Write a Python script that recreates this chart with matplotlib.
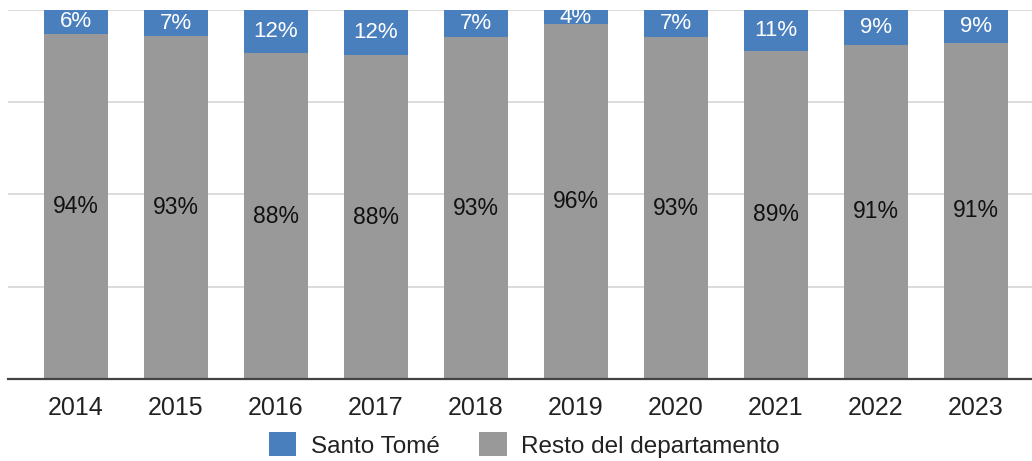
import matplotlib

matplotlib.use("Agg")
import matplotlib.pyplot as plt
from matplotlib.patches import Patch
import numpy as np

plt.rcParams["font.family"] = ["Liberation Sans", "DejaVu Sans"]

YEARS = ["2014", "2015", "2016", "2017", "2018", "2019", "2020", "2021", "2022", "2023"]
RESTO = [93.6, 92.9, 88.3, 87.8, 92.6, 96.2, 92.6, 88.9, 90.6, 91.1]
SANTO_TOME = [6.4, 7.1, 11.7, 12.2, 7.4, 3.8, 7.4, 11.1, 9.4, 8.9]

BLUE = "#4a7fbe"
GRAY = "#999999"

fig = plt.figure(figsize=(10.32, 4.61), dpi=100)
ax = fig.add_axes([8 / 1032, 82 / 461, 1024 / 1032, 369 / 461])

x = np.arange(len(YEARS))
b_resto = ax.bar(x, RESTO, width=0.64, color=GRAY, zorder=2)
b_santo = ax.bar(x, SANTO_TOME, width=0.64, bottom=RESTO, color=BLUE, zorder=2)

ax.bar_label(b_resto, labels=[f"{v:.0f}%" for v in RESTO], label_type="center",
             fontsize=16.5, color="#111111")
ax.bar_label(b_santo, labels=[f"{v:.0f}%" for v in SANTO_TOME], label_type="center",
             fontsize=16, color="white")

ax.set_xlim(-0.68, 9.56)
ax.set_ylim(0, 100)
ax.set_yticks([25, 50, 75, 100])
ax.yaxis.grid(True, color="#d6d6d6", lw=1.2, zorder=0)
ax.tick_params(axis="y", length=0, labelleft=False)
ax.set_xticks(x, YEARS, fontsize=18)
ax.tick_params(axis="x", length=0, pad=12, colors="#222222")
for s in ["top", "right", "left"]:
    ax.spines[s].set_visible(False)
ax.spines["bottom"].set_color("#444444")
ax.spines["bottom"].set_linewidth(1.6)
ax.spines["bottom"].set_zorder(3)

handles = [Patch(facecolor=BLUE, label="Santo Tomé"),
           Patch(facecolor=GRAY, label="Resto del departamento")]
fig.legend(handles=handles, loc="center", bbox_to_anchor=(0.508, 0.035), ncol=2,
           frameon=False, fontsize=17.5, handlelength=1.15, handleheight=1.15,
           handletextpad=0.6, columnspacing=1.6, labelcolor="#222222")

fig.savefig("out.png", dpi=100)
